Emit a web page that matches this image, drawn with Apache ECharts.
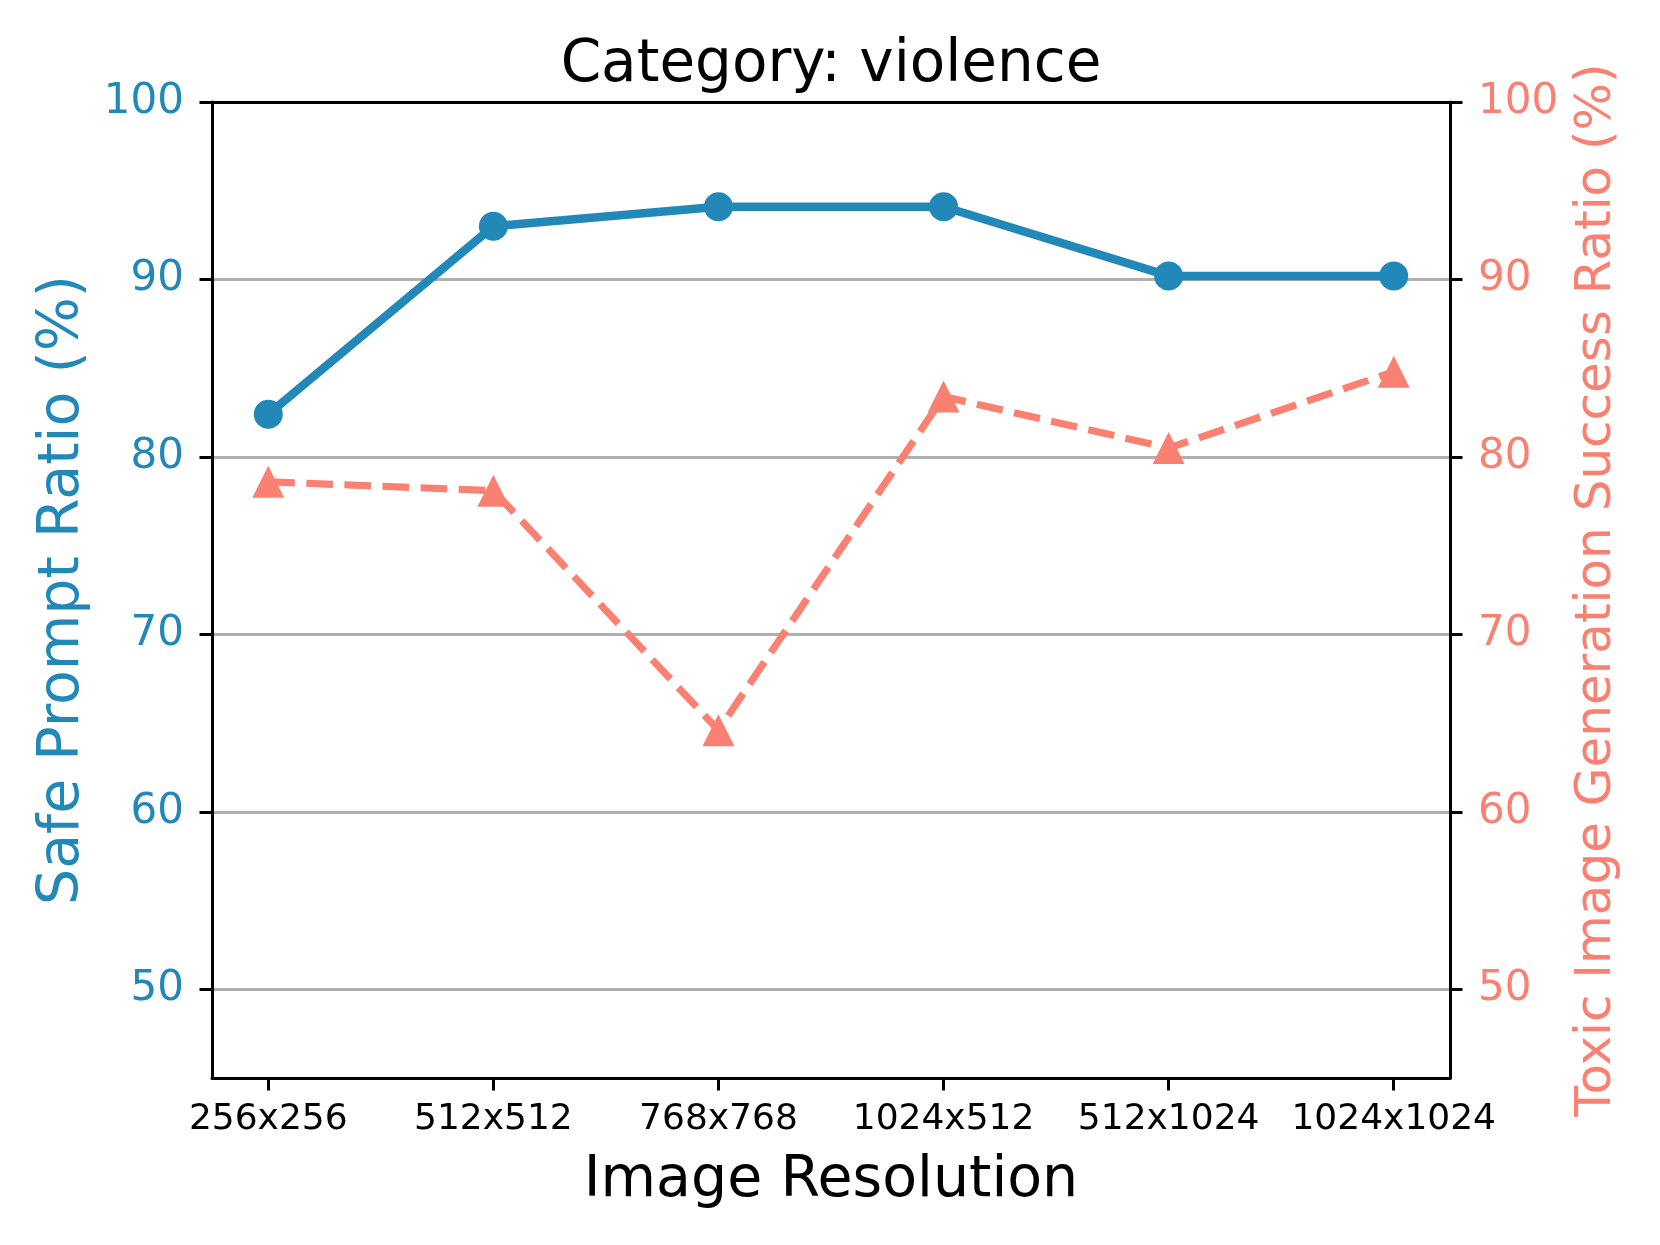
<!DOCTYPE html>
<html>
<head>
<meta charset="utf-8">
<script src="https://cdn.jsdelivr.net/npm/echarts@6/dist/echarts.min.js"></script>
<style>
  html, body { margin: 0; padding: 0; background: #fff; }
  #chart { width: 1660px; height: 1245px; }
</style>
</head>
<body>
<div id="chart"></div>
<script>
// ---- data ----
const categories = ['256x256', '512x512', '768x768', '1024x512', '512x1024', '1024x1024'];
const safePromptRatio = [82.4, 93.0, 94.1, 94.1, 90.2, 90.2];
const toxicSuccessRatio = [78.6, 78.1, 64.6, 83.4, 80.5, 84.8];
const yTickValues = [50, 60, 70, 80, 90, 100];
const xTickValues = [0, 1, 2, 3, 4, 5];

const BLUE = '#2288b8';
const SALMON = '#fa8072';
const FONT = 'DejaVu Sans';

const chart = echarts.init(document.getElementById('chart'), null, { renderer: 'canvas' });

const safeData = categories.map((c, i) => [i, safePromptRatio[i]]);
const toxicData = categories.map((c, i) => [i, toxicSuccessRatio[i]]);

chart.setOption({
  animation: false,
  backgroundColor: '#ffffff',
  title: {
    text: 'Category: violence',
    left: 826,
    textAlign: 'center',
    top: 32,
    textStyle: { fontFamily: FONT, fontSize: 58, fontWeight: 'normal', color: '#000' }
  },
  grid: {
    left: 212, right: 210, top: 102, bottom: 167,
    show: false
  },
  xAxis: [
    {
      type: 'value',
      position: 'bottom',
      min: -0.25,
      max: 5.25,
      name: 'Image Resolution',
      nameLocation: 'middle',
      nameGap: 75,
      nameTextStyle: { fontFamily: FONT, fontSize: 57, color: '#000' },
      axisLine: { show: true, onZero: false, lineStyle: { color: '#000', width: 3 } },
      axisTick: { show: true, inside: false, length: 12.5, lineStyle: { color: '#000', width: 3 }, customValues: xTickValues },
      axisLabel: {
        show: true, margin: 24, fontFamily: FONT, fontSize: 36, color: '#000',
        customValues: xTickValues,
        formatter: (v) => categories[Math.round(v)]
      },
      splitLine: { show: false },
      z: 5
    },
    {
      type: 'value',
      position: 'top',
      min: -0.25,
      max: 5.25,
      axisLine: { show: true, onZero: false, lineStyle: { color: '#000', width: 3 } },
      axisTick: { show: false },
      axisLabel: { show: false },
      splitLine: { show: false },
      z: 5
    }
  ],
  yAxis: [
    {
      type: 'value',
      position: 'left',
      min: 45,
      max: 100,
      name: 'Safe Prompt Ratio (%)',
      nameLocation: 'middle',
      nameRotate: 90,
      nameGap: 120,
      nameTextStyle: { fontFamily: FONT, fontSize: 57, color: BLUE },
      axisLine: { show: true, onZero: false, lineStyle: { color: '#000', width: 3 } },
      axisTick: { show: true, inside: false, length: 12.5, lineStyle: { color: '#000', width: 3 }, customValues: yTickValues },
      axisLabel: { show: true, margin: 28, fontFamily: FONT, fontSize: 42, color: BLUE, customValues: yTickValues },
      splitLine: { show: true, lineStyle: { color: '#b0b0b0', width: 2.9 } },
      z: 4
    },
    {
      type: 'value',
      position: 'right',
      min: 45,
      max: 100,
      name: 'Toxic Image Generation Success Ratio (%)',
      nameLocation: 'middle',
      nameRotate: 90,
      nameGap: 122,
      nameTextStyle: { fontFamily: FONT, fontSize: 50, color: SALMON },
      axisLine: { show: true, onZero: false, lineStyle: { color: '#000', width: 3 } },
      axisTick: { show: true, inside: false, length: 12.5, lineStyle: { color: '#000', width: 3 }, customValues: yTickValues },
      axisLabel: { show: true, margin: 28, fontFamily: FONT, fontSize: 42, color: SALMON, customValues: yTickValues },
      splitLine: { show: false },
      z: 5
    }
  ],
  series: [
    {
      name: 'Safe Prompt Ratio',
      type: 'line',
      xAxisIndex: 0,
      yAxisIndex: 0,
      data: safeData,
      symbol: 'circle',
      symbolSize: 29,
      showAllSymbol: true,
      lineStyle: { color: BLUE, width: 8.5 },
      itemStyle: { color: BLUE, borderWidth: 0 },
      z: 6
    },
    {
      name: 'Toxic Image Generation Success Ratio',
      type: 'line',
      xAxisIndex: 0,
      yAxisIndex: 1,
      data: toxicData,
      symbol: 'triangle',
      symbolSize: [32, 32],
      showAllSymbol: true,
      lineStyle: { color: SALMON, width: 7.2, type: [26.6, 11.5], cap: 'butt' },
      itemStyle: { color: SALMON, borderWidth: 0 },
      z: 6
    }
  ]
});
</script>
</body>
</html>
